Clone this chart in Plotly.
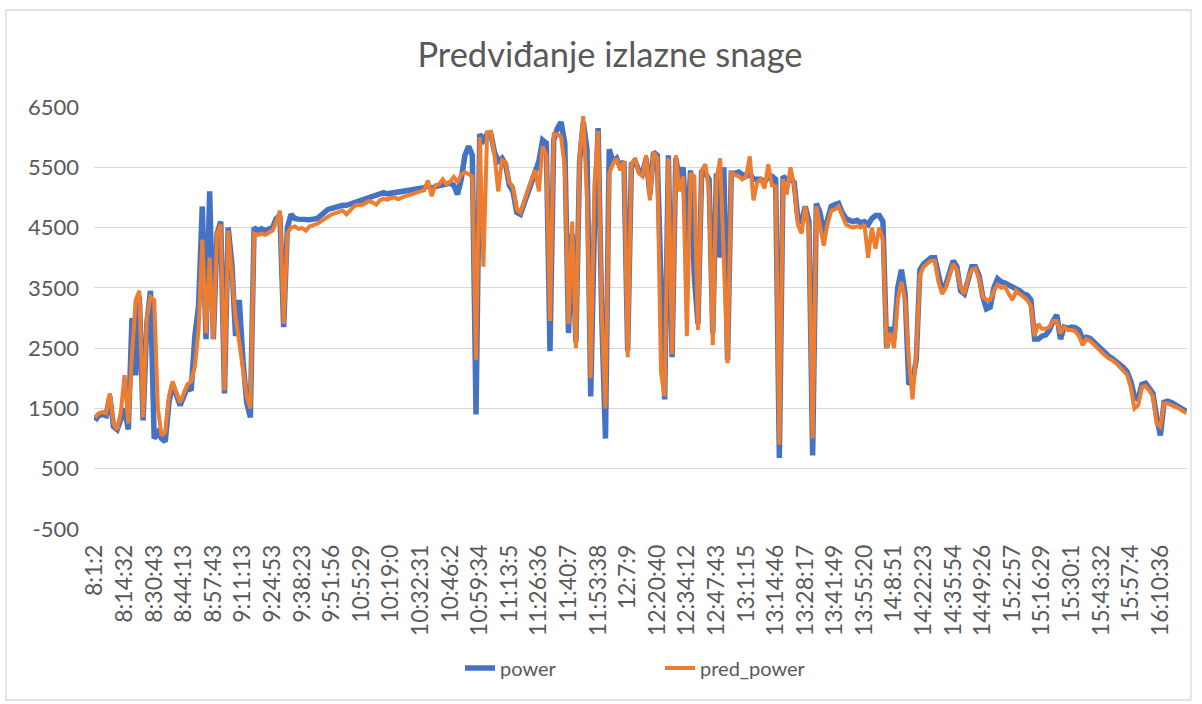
import plotly.graph_objects as go

# Measured output power and model prediction, one sample per step
power = [
    1300, 1380, 1400, 1380, 1700, 1200, 1150, 1350, 1500, 1150,
    3000, 2050, 3350, 1300, 2900, 3450, 1000, 1100, 1000, 950,
    1600, 1900, 1700, 1550, 1700, 1850, 1800, 2700, 3200, 4850,
    2650, 5100, 2650, 4400, 4600, 1750, 4500, 3900, 2700, 3300,
    2300, 1600, 1350, 4500, 4450, 4480, 4450, 4480, 4500, 4650,
    4700, 2850, 4500, 4720, 4650, 4640, 4630, 4630, 4630, 4640,
    4650, 4700, 4750, 4800, 4820, 4840, 4860, 4870, 4870, 4890,
    4920, 4940, 4960, 4980, 5000, 5010, 5020, 5050, 5080, 5060,
    5070, 5080, 5080, 5090, 5100, 5110, 5120, 5130, 5150, 5160,
    5200, 5150, 5180, 5200, 5220, 5230, 5240, 5200, 5050, 5300,
    5700, 5850, 5700, 1400, 6050, 5950, 6050, 6060, 5750, 5600,
    5650, 5550, 5200, 5100, 4750, 4720, 4900, 5100, 5250, 5400,
    5600, 5950, 5900, 2450, 5950, 6150, 6250, 5900, 2750, 4400,
    2600, 5600, 6250, 5800, 1700, 4500, 6150, 3000, 1000, 5800,
    5600, 5650, 5500, 5600, 2450, 5550, 5600, 5450, 5400, 5650,
    5050, 5750, 5700, 3600, 1650, 5700, 2350, 5650, 5300, 5500,
    4200, 5450, 3700, 2900, 5450, 5400, 5300, 2750, 5400, 4000,
    5500, 2300, 5400, 5400, 5420, 5380, 5350, 5400, 5300, 5300,
    5300, 5250, 5350, 5350, 5300, 680, 5350, 5300, 5300, 5250,
    4650, 4600, 4850, 4600, 720, 4900, 4750, 4400, 4600, 4850,
    4880, 4900, 4750, 4650, 4620, 4600, 4620, 4580, 4600, 4550,
    4650, 4700, 4700, 4600, 2500, 2850, 2650, 3500, 3800, 3400,
    1900, 1950, 2300, 3800, 3900, 3950, 4000, 4000, 3700, 3450,
    3550, 3750, 3950, 3850, 3450, 3400, 3650, 3850, 3850, 3700,
    3350, 3150, 3180, 3500, 3650, 3600, 3580, 3550, 3500, 3480,
    3450, 3400, 3380, 3300, 2650, 2650, 2700, 2720, 2800, 2950,
    3050, 2650, 2850, 2830, 2850, 2840, 2800, 2650, 2680, 2660,
    2600, 2540, 2460, 2420, 2370, 2330, 2290, 2230, 2180, 2110,
    1950, 1700, 1650, 1900, 1920, 1850, 1750, 1350, 1050, 1600,
    1620, 1600, 1570, 1540, 1490, 1450,
]

pred_power = [
    1350, 1420, 1440, 1420, 1750, 1250, 1150, 1450, 2050, 1250,
    2400, 3300, 3450, 1350, 3000, 3350, 3300, 1500, 1050, 1100,
    1700, 1950, 1750, 1600, 1750, 1900, 1950, 2200, 2800, 4300,
    2750, 4000, 2650, 4400, 4550, 1800, 4450, 3800, 3000, 2600,
    2200, 1700, 1500, 4400, 4380, 4400, 4380, 4420, 4450, 4600,
    4780, 2900, 4400, 4500, 4520, 4480, 4490, 4450, 4520, 4540,
    4560, 4600, 4640, 4680, 4720, 4740, 4760, 4780, 4720, 4790,
    4850, 4880, 4870, 4900, 4940, 4920, 4880, 4950, 4980, 4960,
    4990, 5000, 4970, 5000, 5020, 5040, 5060, 5080, 5100, 5120,
    5280, 5020, 5200, 5220, 5300, 5220, 5260, 5340, 5250, 5380,
    5420, 5380, 5350, 2300, 6000, 3850, 6080, 6090, 5700, 5100,
    5620, 5580, 5250, 5180, 4800, 4750, 4950, 5150, 5300, 5450,
    5100, 5850, 5700, 2950, 6050, 6050, 6000, 5500, 2900, 4600,
    2500, 5700, 6350, 5000, 2000, 5200, 6100, 3050, 1500, 5400,
    5550, 5650, 5450, 5600, 2350, 5550, 5650, 5400, 5350, 5700,
    4950, 5750, 5650, 2100, 1700, 5650, 2400, 5700, 5100, 5350,
    2700, 5400, 5350, 2800, 5450, 5550, 5100, 2550, 5300, 5650,
    4000, 2250, 5400, 5380, 5350, 5300, 5350, 5680, 4950, 5250,
    5300, 5150, 5550, 5200, 5180, 900, 5300, 5050, 5500, 5200,
    4550, 4400, 4850, 4450, 1000, 4850, 4550, 4200, 4550, 4780,
    4800, 4850, 4700, 4550, 4520, 4500, 4520, 4500, 4550, 4000,
    4500, 4150, 4500, 4300, 2500, 2750, 2500, 3300, 3600, 3300,
    2300, 1650, 2400, 3700, 3850, 3900, 3950, 3950, 3600, 3400,
    3500, 3700, 3900, 3800, 3500, 3400, 3650, 3800, 3820, 3650,
    3350, 3300, 3300, 3450, 3550, 3500, 3520, 3400, 3300, 3450,
    3400, 3330, 3300, 3200, 2700, 2900, 2820, 2820, 2850, 2950,
    2950, 2750, 2850, 2800, 2800, 2780, 2700, 2550, 2650, 2620,
    2560, 2500, 2420, 2380, 2330, 2300, 2250, 2190, 2130, 2060,
    1850, 1500, 1550, 1850, 1870, 1800, 1700, 1250, 1200, 1580,
    1580, 1560, 1530, 1500, 1450, 1420,
]

# Time labels shown on the category axis (every 8th sample)
time_labels = [
    "8:1:2", "8:14:32", "8:30:43", "8:44:13", "8:57:43", "9:11:13",
    "9:24:53", "9:38:23", "9:51:56", "10:5:29", "10:19:0", "10:32:31",
    "10:46:2", "10:59:34", "11:13:5", "11:26:36", "11:40:7", "11:53:38",
    "12:7:9", "12:20:40", "12:34:12", "12:47:43", "13:1:15", "13:14:46",
    "13:28:17", "13:41:49", "13:55:20", "14:8:51", "14:22:23", "14:35:54",
    "14:49:26", "15:2:57", "15:16:29", "15:30:1", "15:43:32", "15:57:4",
    "16:10:36",
]
label_step = 8

y_ticks = [-500, 500, 1500, 2500, 3500, 4500, 5500, 6500]
y_labels = ["-500", "500", "1500", "2500", "3500", "4500", "5500", "6500"]

x = list(range(len(power)))
tick_pos = [i * label_step for i in range(len(time_labels))]

BLUE = "#4472C4"
ORANGE = "#ED7D31"
TEXT = "#595959"
GRID = "#D9D9D9"
FONT = "Lato, Carlito, Calibri, sans-serif"

fig = go.Figure()
fig.add_trace(go.Scatter(
    x=x, y=power, name="power", mode="lines",
    line=dict(color=BLUE, width=5.5),
))
fig.add_trace(go.Scatter(
    x=x, y=pred_power, name="pred_power", mode="lines",
    line=dict(color=ORANGE, width=4),
))

W, H = 1202, 704
L, R, T, B = 94, 15, 107, 175
pw, ph = W - L - R, H - T - B

def px_x(p):
    return (p - L) / pw

def px_y(p):
    return (H - B - p) / ph

fig.update_layout(
    width=W, height=H,
    margin=dict(l=L, r=R, t=T, b=B),
    paper_bgcolor="white", plot_bgcolor="white",
    font=dict(family=FONT, color=TEXT, size=22),
    title=dict(
        text="Predviđanje izlazne snage",
        x=610 / W, xref="container", xanchor="center",
        y=1 - 55 / H, yref="container", yanchor="middle",
        font=dict(family=FONT, size=34.5, color=TEXT),
    ),
    showlegend=True,
    legend=dict(
        orientation="h", x=px_x(460), xanchor="left",
        y=px_y(668), yanchor="middle",
        entrywidth=155, entrywidthmode="pixels",
        font=dict(family=FONT, size=20, color=TEXT),
        bgcolor="rgba(0,0,0,0)",
    ),
    xaxis=dict(
        range=[-0.27, len(power) - 1 + 0.2],
        tickmode="array", tickvals=tick_pos, ticktext=time_labels,
        tickangle=-90, showgrid=False, zeroline=False,
        showline=False, ticks="", ticklabelstandoff=10,
        tickfont=dict(family=FONT, size=23, color=TEXT),
    ),
    yaxis=dict(
        range=[-500, 6500],
        tickmode="array", tickvals=y_ticks, ticktext=y_labels,
        showgrid=True, gridcolor=GRID, gridwidth=1.3,
        zeroline=False, showline=False, ticks="",
        ticklabelstandoff=14,
        tickfont=dict(family=FONT, size=22, color=TEXT),
    ),
    shapes=[dict(
        type="rect", xref="paper", yref="paper",
        x0=px_x(6), x1=px_x(1191), y0=px_y(700), y1=px_y(10),
        line=dict(color=GRID, width=1.3), fillcolor="rgba(0,0,0,0)",
        layer="below",
    )],
)

fig.write_html("out.html")
